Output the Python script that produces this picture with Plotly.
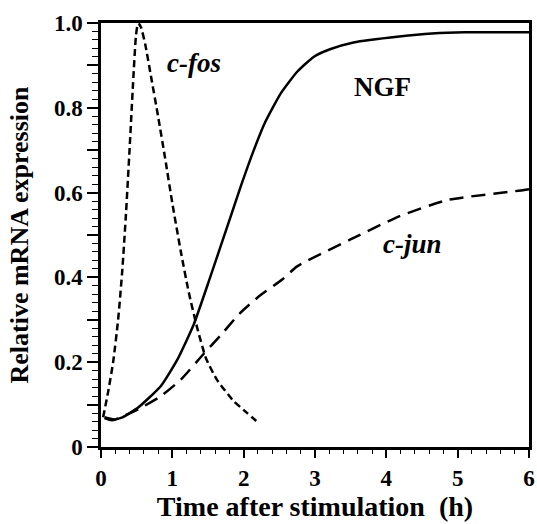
import plotly.graph_objects as go

# ---- data ----
fos_t = [0.03, 0.10, 0.17, 0.24, 0.30, 0.35, 0.40, 0.45, 0.49, 0.52, 0.56, 0.62, 0.70, 0.80, 0.90,
         1.00, 1.12, 1.23, 1.35, 1.47, 1.62, 1.85, 2.05, 2.22]
fos_v = [0.07, 0.13, 0.20, 0.30, 0.42, 0.55, 0.70, 0.86, 0.97, 1.00, 0.99, 0.95, 0.875, 0.78, 0.68,
         0.575, 0.46, 0.365, 0.28, 0.21, 0.16, 0.11, 0.08, 0.055]

ngf_t = [0.05, 0.15, 0.30, 0.52, 0.84, 1.07, 1.30, 1.53, 1.81, 1.97, 2.13, 2.29, 2.52, 2.75, 2.98,
         3.21, 3.54, 4.18, 4.64, 5.10, 6.00]
ngf_v = [0.068, 0.063, 0.07, 0.093, 0.144, 0.206, 0.289, 0.40, 0.54, 0.62, 0.695, 0.762, 0.834, 0.885,
         0.920, 0.938, 0.954, 0.968, 0.975, 0.978, 0.978]

jun_t = [0.05, 0.19, 0.52, 0.84, 1.12, 1.44, 1.67, 1.95, 2.22, 2.54, 2.75, 3.49, 4.18, 4.87, 5.93, 6.00]
jun_v = [0.07, 0.065, 0.089, 0.12, 0.159, 0.22, 0.262, 0.316, 0.356, 0.395, 0.426, 0.489, 0.544,
         0.583, 0.606, 0.608]

x_ticks = [0, 1, 2, 3, 4, 5, 6]
x_ticktext = ["0", "1", "2", "3", "4", "5", "6"]
y_ticks = [0, 0.1, 0.2, 0.3, 0.4, 0.5, 0.6, 0.7, 0.8, 0.9, 1.0]
y_ticktext = ["0", "", "0.2", "", "0.4", "", "0.6", "", "0.8", "", "1.0"]

labels = ["c-fos", "NGF", "c-jun"]
label_t = [1.30, 3.95, 4.36]
label_v = [0.905, 0.848, 0.478]
label_italic = [True, False, True]

FONT = "Liberation Serif"


def bold(s):
    return f"<b>{s}</b>" if s else ""


fig = go.Figure()
fig.add_trace(go.Scatter(x=fos_t, y=fos_v, mode="lines", line=dict(color="black", width=2.5, dash="7px,4px", shape="spline", smoothing=0.5)))
fig.add_trace(go.Scatter(x=ngf_t, y=ngf_v, mode="lines", line=dict(color="black", width=2.5, shape="spline", smoothing=0.5)))
fig.add_trace(go.Scatter(x=jun_t, y=jun_v, mode="lines", line=dict(color="black", width=2.5, dash="14px,8px", shape="spline", smoothing=0.5)))

for txt, tx, ty, it in zip(labels, label_t, label_v, label_italic):
    t = bold(txt)
    if it:
        t = f"<i>{t}</i>"
    fig.add_annotation(x=tx, y=ty, text=t, showarrow=False, xanchor="center", yanchor="middle",
                       font=dict(family=FONT, size=27, color="black"))

fig.update_layout(
    width=537, height=524,
    margin=dict(l=101, r=2, t=23, b=77),
    paper_bgcolor="white", plot_bgcolor="white",
    showlegend=False,
    font=dict(family=FONT, color="black"),
)
fig.update_xaxes(
    range=[0, 6], tickvals=x_ticks, ticktext=[bold(s) for s in x_ticktext],
    ticks="outside", ticklen=8, tickwidth=1.5, tickcolor="black",
    ticklabeloverflow="allow", ticklabelstandoff=1,
    minor=dict(dtick=0.2, ticks="outside", ticklen=4, tickwidth=1.2, tickcolor="black"),
    showline=True, linewidth=2.5, linecolor="black", mirror=True, showgrid=False, zeroline=False,
    tickfont=dict(family=FONT, size=23, color="black", weight="bold"),
    title=dict(text=bold("Time after stimulation  (h)"), font=dict(family=FONT, size=28, color="black"), standoff=4),
)
fig.update_yaxes(
    range=[0, 1.0], tickvals=y_ticks, ticktext=[bold(s) for s in y_ticktext],
    ticks="outside", ticklen=11, tickwidth=1.5, tickcolor="black",
    ticklabeloverflow="allow",
    minor=dict(dtick=0.02, ticks="outside", ticklen=6, tickwidth=1.2, tickcolor="black"),
    showline=True, linewidth=2.5, linecolor="black", mirror=True, showgrid=False, zeroline=False,
    tickfont=dict(family=FONT, size=23, color="black", weight="bold"),
    title=dict(text=bold("Relative mRNA expression"), font=dict(family=FONT, size=26, color="black"), standoff=18),
)

fig.write_html("out.html")
